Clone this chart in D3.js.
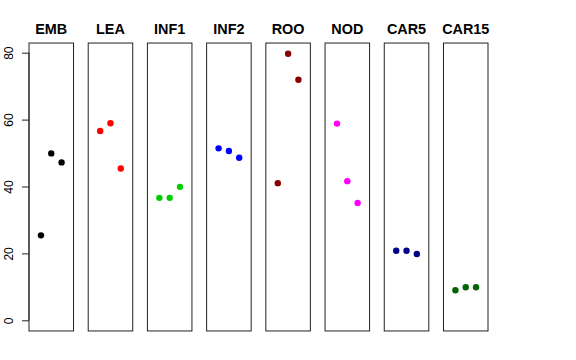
<!DOCTYPE html>
<html>
<head>
<meta charset="utf-8">
<script src="https://cdn.jsdelivr.net/npm/d3@7"></script>
<style>
  body { margin: 0; background: #fff; }
  svg { display: block; }
</style>
</head>
<body>
<svg id="chart" width="576" height="360"></svg>
<script>
// ---- data ----
const categories = ["EMB", "LEA", "INF1", "INF2", "ROO", "NOD", "CAR5", "CAR15"];
const colors = ["#000000", "#FF0000", "#00CD00", "#0000FF", "#8B0000", "#FF00FF", "#00008B", "#006400"];
const rep1 = [25.4, 56.6, 36.6, 51.4, 41.0, 58.8, 20.8, 9.0];
const rep2 = [49.9, 58.9, 36.6, 50.6, 79.7, 41.6, 20.8, 9.9];
const rep3 = [47.2, 45.4, 39.9, 48.6, 71.9, 35.1, 19.8, 9.9];
const yTicks = [0, 20, 40, 60, 80];
const font = "'Liberation Sans', Arial, Helvetica, sans-serif";

const svg = d3.select("#chart");

// y limits like R: data range extended by 4%
const allVals = rep1.concat(rep2, rep3);
const yMin = 0, yMax = d3.max(allVals);
const ext = (yMax - yMin) * 0.04;
const y = d3.scaleLinear().domain([0, 80]).range([320.3, 52.7]);
const boxTop = y(yMax + ext), boxBot = y(yMin - ext);

const band = d3.scaleBand().domain(categories).range([29, 488]).paddingInner(0.248).paddingOuter(0);

categories.forEach((cat, i) => {
  const left = band(cat), w = band.bandwidth();
  const x = d3.scaleLinear().domain([-0.16, 4.16]).range([left, left + w]);
  const g = svg.append("g");
  g.append("rect")
    .attr("x", left).attr("y", boxTop)
    .attr("width", w).attr("height", boxBot - boxTop)
    .attr("fill", "none").attr("stroke", "#222").attr("stroke-width", 1);
  g.append("text")
    .attr("x", left + w / 2).attr("y", 34.3)
    .attr("text-anchor", "middle")
    .attr("font-family", font).attr("font-weight", "bold").attr("font-size", 14.4)
    .text(cat);
  const pts = [rep1[i], rep2[i], rep3[i]];
  g.selectAll("circle").data(pts).enter().append("circle")
    .attr("cx", (d, j) => x(j + 1))
    .attr("cy", d => y(d))
    .attr("r", 3.2)
    .attr("fill", colors[i]);
});

// y axis
const axis = d3.axisLeft(y).tickValues(yTicks).tickSize(7).tickPadding(0).tickFormat(d3.format("d"));
const ag = svg.append("g").attr("transform", "translate(29,0)").call(axis);
ag.select(".domain").attr("stroke", "#222").attr("d", `M-0,${y(0)}V${y(80)}`);
ag.selectAll(".tick line").attr("stroke", "#222");
ag.selectAll(".tick text")
  .attr("font-family", font).attr("font-size", 12).attr("fill", "#000")
  .attr("x", null).attr("dy", null)
  .attr("text-anchor", "middle")
  .attr("transform", "translate(-16.3,0) rotate(-90)");
</script>
</body>
</html>
